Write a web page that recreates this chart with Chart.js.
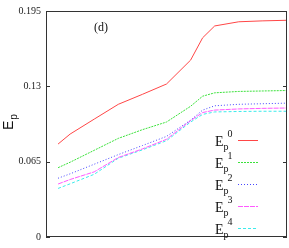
<!DOCTYPE html>
<html>
<head>
<meta charset="utf-8">
<script src="https://cdn.jsdelivr.net/npm/chart.js@4"></script>
<style>
  html, body { margin: 0; padding: 0; background: #fff; }
  #wrap { width: 289px; height: 248px; }
</style>
</head>
<body>
<div id="wrap"><canvas id="ep-chart"></canvas></div>
<script>
// x positions (axis has no labels, 0..20)
var xs = [1, 2, 4, 6, 8, 10, 12, 13, 14, 16, 18, 20];
var ep0 = [0.0802, 0.0888, 0.1017, 0.1145, 0.1231, 0.1320, 0.1526, 0.1719, 0.1821, 0.1857, 0.1865, 0.1870];
var ep1 = [0.0598, 0.0645, 0.0748, 0.0851, 0.0926, 0.0992, 0.1128, 0.1215, 0.1244, 0.1256, 0.1260, 0.1264];
var ep2 = [0.0507, 0.0545, 0.0628, 0.0711, 0.0789, 0.0868, 0.1008, 0.1095, 0.1132, 0.1145, 0.1150, 0.1155];
var ep3 = [0.0457, 0.0496, 0.0562, 0.0686, 0.0760, 0.0843, 0.1004, 0.1074, 0.1095, 0.1105, 0.1110, 0.1113];
var ep4 = [0.0419, 0.0459, 0.0541, 0.0680, 0.0752, 0.0831, 0.0992, 0.1058, 0.1079, 0.1083, 0.1085, 0.1085];
var yTicks = [0, 0.065, 0.13, 0.195];
var seriesNames = ['0', '1', '2', '3', '4'];

function pts(arr) {
    return xs.map(function (x, i) { return { x: x, y: arr[i] }; });
}

var styles = [
    { color: 'rgb(255,70,70)', dash: [] },
    { color: 'rgb(60,225,60)', dash: [2, 1] },
    { color: 'rgb(70,70,255)', dash: [1, 2] },
    { color: 'rgb(255,90,255)', dash: [5, 1] },
    { color: 'rgb(60,235,235)', dash: [3, 2] }
];

var datasets = [ep0, ep1, ep2, ep3, ep4].map(function (arr, i) {
    return {
        label: 'Ep' + seriesNames[i],
        data: pts(arr),
        borderColor: styles[i].color,
        borderDash: styles[i].dash,
        borderWidth: 1,
        pointRadius: 0,
        tension: 0,
        fill: false
    };
});

var serif = "'Liberation Serif', 'Times New Roman', serif";
var sans = "'Liberation Sans', Arial, sans-serif";

// frame, inner ticks, panel label, axis title and legend
var decor = {
    id: 'decor',
    afterDraw: function (chart) {
        var ctx = chart.ctx;
        var a = chart.chartArea;
        var ys = chart.scales.y;
        ctx.save();
        ctx.strokeStyle = '#333';
        ctx.lineWidth = 1;
        ctx.strokeRect(a.left + 0.5, a.top + 0.5, a.right - a.left - 1, a.bottom - a.top - 1);
        yTicks.forEach(function (v) {
            var py = Math.round(ys.getPixelForValue(v)) + 0.5;
            ctx.beginPath();
            ctx.moveTo(a.left, py);
            ctx.lineTo(a.left + 4, py);
            ctx.moveTo(a.right, py);
            ctx.lineTo(a.right - 4, py);
            ctx.stroke();
        });

        ctx.fillStyle = '#111';
        ctx.font = '12px ' + serif;
        ctx.textAlign = 'center';
        ctx.textBaseline = 'alphabetic';
        ctx.fillText('(d)', a.left + 55, 31);

        // y axis title E_p rotated
        ctx.save();
        ctx.translate(13, 130);
        ctx.rotate(-Math.PI / 2);
        ctx.textAlign = 'left';
        ctx.font = '14px ' + sans;
        ctx.fillText('E', 0, 0);
        var w = ctx.measureText('E').width;
        ctx.font = '10px ' + sans;
        ctx.fillText('p', w + 1, 4);
        ctx.restore();

        // legend
        chart.data.datasets.forEach(function (ds, i) {
            var ly = 139.5 + i * 22.1;
            ctx.font = '14px ' + serif;
            ctx.textAlign = 'left';
            ctx.fillText('E', 215, ly + 6);
            ctx.font = '10px ' + serif;
            ctx.fillText('p', 223.5, ly + 10);
            ctx.fillText(seriesNames[i], 227.5, ly - 3);
            ctx.strokeStyle = ds.borderColor;
            ctx.setLineDash(ds.borderDash);
            ctx.beginPath();
            ctx.moveTo(238, Math.round(ly) + 0.5);
            ctx.lineTo(258, Math.round(ly) + 0.5);
            ctx.stroke();
            ctx.setLineDash([]);
        });
        ctx.restore();
    }
};

new Chart(document.getElementById('ep-chart'), {
    type: 'line',
    data: { datasets: datasets },
    options: {
        responsive: true,
        maintainAspectRatio: false,
        animation: false,
        layout: { padding: { left: 0, right: 2, top: 7, bottom: 5 } },
        plugins: { legend: { display: false }, tooltip: { enabled: false } },
        scales: {
            x: { type: 'linear', min: 0, max: 20, display: false },
            y: {
                min: 0,
                max: 0.195,
                afterBuildTicks: function (scale) {
                    scale.ticks = yTicks.map(function (v) { return { value: v }; });
                },
                afterFit: function (scale) { scale.width = 46; },
                grid: { display: false, drawTicks: false },
                border: { display: false },
                ticks: {
                    padding: 5,
                    color: '#222',
                    font: { family: serif, size: 10 },
                    callback: function (value) { return String(value); }
                }
            }
        }
    },
    plugins: [decor]
});
</script>
</body>
</html>
